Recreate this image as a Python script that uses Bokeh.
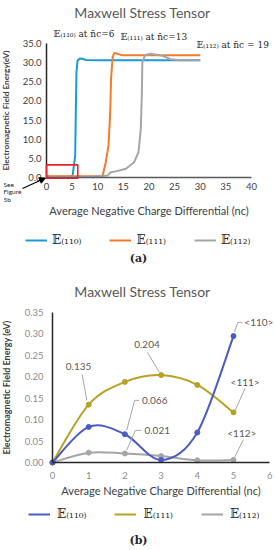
from bokeh.plotting import figure
from bokeh.layouts import column
from bokeh.models import (Range1d, Label, Legend, LegendItem, Arrow, NormalHead,
                          BoxAnnotation, FixedTicker, NumeralTickFormatter, ColumnDataSource)
from bokeh.embed import file_html
from bokeh.resources import INLINE

# ---------------- (a) data ----------------
a_x110 = [0, 2, 4, 5.07, 5.6, 5.72, 5.85, 6.05, 6.5, 7.0, 7.7, 10, 15, 20, 25, 30]
a_y110 = [0.2, 0.2, 0.2, 0.3, 5.7, 17, 27.5, 30.5, 31.1, 31.0, 30.7, 30.6, 30.6, 30.6, 30.6, 30.6]

a_x111 = [0, 3, 6, 9, 10.93, 11.57, 12.1, 12.43, 12.6, 12.9, 13.2, 13.85, 14.8, 18, 22, 26, 30]
a_y111 = [0.3, 0.3, 0.3, 0.3, 0.4, 4.0, 8.4, 17, 25.8, 31.4, 32.5, 32.3, 31.9, 31.9, 31.9, 31.9, 31.9]

a_x112 = [0, 4, 8, 11.9, 12.55, 13.5, 15.5, 17.1, 17.95, 18.4, 18.6, 18.7, 19.26, 20.35, 22.6, 24.2, 26, 30]
a_y112 = [0.1, 0.1, 0.1, 0.5, 1.4, 1.6, 2.3, 4.0, 6.6, 12.7, 21.4, 30.1, 32.0, 32.3, 31.8, 30.9, 30.6, 30.6]

a_xticks = [0, 5, 10, 15, 20, 25, 30, 35, 40]
a_yticks = [0, 5, 10, 15, 20, 25, 30, 35]
a_xbounds = (0, 40)
a_ybounds = (0, 35)
a_zoom_box = dict(left=0, right=6.1, bottom=-0.2, top=3.3)

# ---------------- (b) data ----------------
b_x = [0, 1, 2, 3, 4, 5]
b_y110 = [0.0, 0.083, 0.066, 0.006, 0.070, 0.295]
b_y111 = [0.0, 0.135, 0.188, 0.204, 0.181, 0.117]
b_y112 = [0.0, 0.023, 0.021, 0.015, 0.005, 0.006]
b_xticks = [0, 1, 2, 3, 4, 5, 6]
b_yticks = [0, 0.05, 0.10, 0.15, 0.20, 0.25, 0.30, 0.35]
b_xbounds = (0, 6)
b_ybounds = (0, 0.35)

C_BLUE_A, C_ORANGE_A, C_GRAY_A = "#1b9ad6", "#f27b2c", "#a5a5a5"
C_BLUE_B, C_OLIVE_B, C_GRAY_B = "#4a5bc4", "#b8a127", "#a5a5a5"
SANS = "Lato"
SERIF = "DejaVu Serif"
LEG_LABELS = ["\U0001D53C\u208D\u2081\u2081\u2080\u208E",
              "\U0001D53C\u208D\u2081\u2081\u2081\u208E",
              "\U0001D53C\u208D\u2081\u2081\u2082\u208E"]
XLABEL = "Average Negative Charge Differential (nc)"


def style_axes(p, xlab, ylab, tick_color, xfmt, yfmt, xaxis_color, yaxis_color,
               xbounds, ybounds, xticks, yticks, ylab_size):
    p.grid.visible = False
    p.outline_line_color = None
    for ax in (p.xaxis[0], p.yaxis[0]):
        ax.fixed_location = 0
        ax.major_tick_out = 0
        ax.major_tick_in = 0
        ax.minor_tick_out = 0
        ax.minor_tick_in = 0
        ax.major_label_text_font = SANS
        ax.major_label_text_font_size = "9.5px"
        ax.major_label_text_color = tick_color
        ax.axis_label_text_font = SANS
        ax.axis_label_text_color = "#404040"
    p.xaxis.bounds = xbounds
    p.yaxis.bounds = ybounds
    p.xaxis.ticker = FixedTicker(ticks=xticks)
    p.yaxis.ticker = FixedTicker(ticks=yticks)
    p.xaxis.axis_label = xlab
    p.yaxis.axis_label = ylab
    p.xaxis.axis_label_text_font_size = "11px"
    p.xaxis.axis_label_text_font_style = "normal"
    p.yaxis.axis_label_text_font_size = ylab_size
    p.yaxis.axis_label_text_font_style = "bold"
    p.xaxis.formatter = NumeralTickFormatter(format=xfmt)
    p.yaxis.formatter = NumeralTickFormatter(format=yfmt)
    p.xaxis.axis_line_color = xaxis_color
    p.yaxis.axis_line_color = yaxis_color
    p.xaxis.axis_line_width = 1.3
    p.yaxis.axis_line_width = 1.5


# ====================== figure (a) ======================
# the frame covers the whole canvas; axes sit at x=0 / y=0
pa = figure(width=276, height=270, x_range=Range1d(-8.976, 44.878), y_range=Range1d(-24.29, 46.23),
            output_backend="svg", toolbar_location=None,
            min_border_left=0, min_border_right=0, min_border_top=0, min_border_bottom=0)
style_axes(pa, XLABEL, "Electromagnetic Field Energy(eV)", "#404040", "0", "0.0",
           "#595959", "#262626", a_xbounds, a_ybounds, a_xticks, a_yticks, "8.2px")
pa.xaxis.major_label_standoff = 5
pa.yaxis.major_label_standoff = 5
pa.xaxis.axis_label_standoff = 11
pa.yaxis.axis_label_standoff = 9

ra1 = pa.line(a_x110, a_y110, line_color=C_BLUE_A, line_width=2)
ra2 = pa.line(a_x111, a_y111, line_color=C_ORANGE_A, line_width=2)
ra3 = pa.line(a_x112, a_y112, line_color=C_GRAY_A, line_width=2)

pa.add_layout(BoxAnnotation(**a_zoom_box, fill_alpha=0, line_color="#e8202a",
                            line_alpha=1, line_width=1.6))

pa.add_layout(Label(x=18.73, y=43.1, text="Maxwell Stress Tensor", text_font=SANS,
                    text_font_size="14px", text_color="#595959",
                    text_align="center", text_baseline="middle"))

for tx, ty, t in [(1.37, 37.35, "\U0001D53C\u208D\u2081\u2081\u2080\u208E  at n\u0304c=6"),
                  (14.44, 36.57, "\U0001D53C\u208D\u2081\u2081\u2081\u208E  at n\u0304c=13"),
                  (29.27, 34.48, "\U0001D53C\u208D\u2081\u2081\u2082\u208E  at n\u0304c = 19")]:
    pa.add_layout(Label(x=tx, y=ty, text=t, text_font=SERIF, text_font_size="9px",
                        text_color="#262626", text_align="left", text_baseline="middle"))

pa.add_layout(Label(x=-8.4, y=-0.8, text="See\nFigure\n5b", text_font=SANS,
                    text_font_size="6.5px", text_color="#262626", text_align="left",
                    text_baseline="top", text_line_height=1.1))
pa.add_layout(Arrow(x_start=-4.68, y_start=-2.87, x_end=-0.2, y_end=-0.13,
                    line_color="#000000", line_width=1.3,
                    end=NormalHead(size=6, fill_color="#000000", line_color="#000000")))

pa.add_layout(Label(x=17.95, y=-21.16, text="(a)", text_font=SERIF, text_font_size="11px",
                    text_font_style="bold", text_color="#262626",
                    text_align="center", text_baseline="middle"))

leg_a = Legend(items=[LegendItem(label=LEG_LABELS[0], renderers=[ra1]),
                      LegendItem(label=LEG_LABELS[1], renderers=[ra2]),
                      LegendItem(label=LEG_LABELS[2], renderers=[ra3])],
               location=(25, 23), orientation="horizontal",
               glyph_width=22, glyph_height=14, label_height=14, label_standoff=5,
               spacing=28, padding=2, margin=0, border_line_color=None,
               background_fill_alpha=0, label_text_font=SERIF,
               label_text_font_size="12px", label_text_color="#262626")
pa.add_layout(leg_a)

# ====================== figure (b) ======================
pb = figure(width=276, height=280, x_range=Range1d(-1.4365, 6.188), y_range=Range1d(-0.2053, 0.448),
            output_backend="svg", toolbar_location=None,
            min_border_left=0, min_border_right=0, min_border_top=0, min_border_bottom=0)
style_axes(pb, XLABEL, "Electromagnetic Field Energy (eV)", "#8c8c8c", "0", "0.00",
           "#262626", "#262626", b_xbounds, b_ybounds, b_xticks, b_yticks, "9px")
pb.xaxis.major_label_standoff = 9
pb.yaxis.major_label_standoff = 9
pb.xaxis.axis_label_standoff = 2
pb.yaxis.axis_label_standoff = 10
pb.xaxis.axis_line_width = 1.6


def smooth_source(xs, ys):
    """Bezier control points (Catmull-Rom) so the library draws a smoothed line through the data."""
    n = len(xs)
    d = dict(x0=[], y0=[], x1=[], y1=[], cx0=[], cy0=[], cx1=[], cy1=[])
    for i in range(n - 1):
        xp, yp = (xs[i - 1], ys[i - 1]) if i > 0 else (xs[i], ys[i])
        xn, yn = (xs[i + 2], ys[i + 2]) if i + 2 < n else (xs[i + 1], ys[i + 1])
        d["x0"].append(xs[i]); d["y0"].append(ys[i])
        d["x1"].append(xs[i + 1]); d["y1"].append(ys[i + 1])
        d["cx0"].append(xs[i] + (xs[i + 1] - xp) / 6); d["cy0"].append(ys[i] + (ys[i + 1] - yp) / 6)
        d["cx1"].append(xs[i + 1] - (xn - xs[i]) / 6); d["cy1"].append(ys[i + 1] - (yn - ys[i]) / 6)
    return ColumnDataSource(d)


rbs = []
for ys, col in [(b_y112, C_GRAY_B), (b_y111, C_OLIVE_B), (b_y110, C_BLUE_B)]:
    r = pb.bezier(x0="x0", y0="y0", x1="x1", y1="y1", cx0="cx0", cy0="cy0", cx1="cx1", cy1="cy1",
                  source=smooth_source(b_x, ys), line_color=col, line_width=2)
    pb.scatter(b_x, ys, size=5, color=col)
    rbs.append(r)
rb112, rb111, rb110 = rbs

# callout leader lines and texts
lead_x0 = [0.82, 2.62, 2.40, 2.27, 2.45, 2.29, 5.24, 5.12, 5.32, 5.27]
lead_y0 = [0.205, 0.257, 0.145, 0.145, 0.075, 0.075, 0.327, 0.327, 0.173, 0.053]
lead_x1 = [0.95, 2.95, 2.27, 2.05, 2.29, 2.05, 5.12, 5.03, 5.05, 5.03]
lead_y1 = [0.145, 0.211, 0.145, 0.075, 0.075, 0.029, 0.327, 0.305, 0.122, 0.012]
pb.segment(lead_x0, lead_y0, lead_x1, lead_y1, line_color="#a6a6a6", line_width=1)

for tx, ty, t, al in [(0.72, 0.224, "0.135", "center"), (2.61, 0.275, "0.204", "center"),
                      (2.47, 0.145, "0.066", "left"), (2.54, 0.075, "0.021", "left"),
                      (5.30, 0.327, "<110>", "left"), (5.32, 0.187, "<111>", "center"),
                      (5.23, 0.068, "<112>", "center")]:
    pb.add_layout(Label(x=tx, y=ty, text=t, text_font=SANS, text_font_size="10px",
                        text_color="#595959", text_align=al, text_baseline="middle"))

pb.add_layout(Label(x=2.486, y=0.399, text="Maxwell Stress Tensor", text_font=SANS,
                    text_font_size="14px", text_color="#595959",
                    text_align="center", text_baseline="middle"))
pb.add_layout(Label(x=2.376, y=-0.182, text="(b)", text_font=SERIF, text_font_size="11px",
                    text_font_style="bold", text_color="#262626",
                    text_align="center", text_baseline="middle"))

leg_b = Legend(items=[LegendItem(label=LEG_LABELS[0], renderers=[rb110]),
                      LegendItem(label=LEG_LABELS[1], renderers=[rb111]),
                      LegendItem(label=LEG_LABELS[2], renderers=[rb112])],
               location=(28, 29), orientation="horizontal",
               glyph_width=22, glyph_height=14, label_height=14, label_standoff=7,
               spacing=28, padding=2, margin=0, border_line_color=None,
               background_fill_alpha=0, label_text_font=SERIF,
               label_text_font_size="12px", label_text_color="#262626")
pb.add_layout(leg_b)

layout = column(pa, pb, spacing=0)
open("out.html", "w").write(file_html(layout, INLINE))
